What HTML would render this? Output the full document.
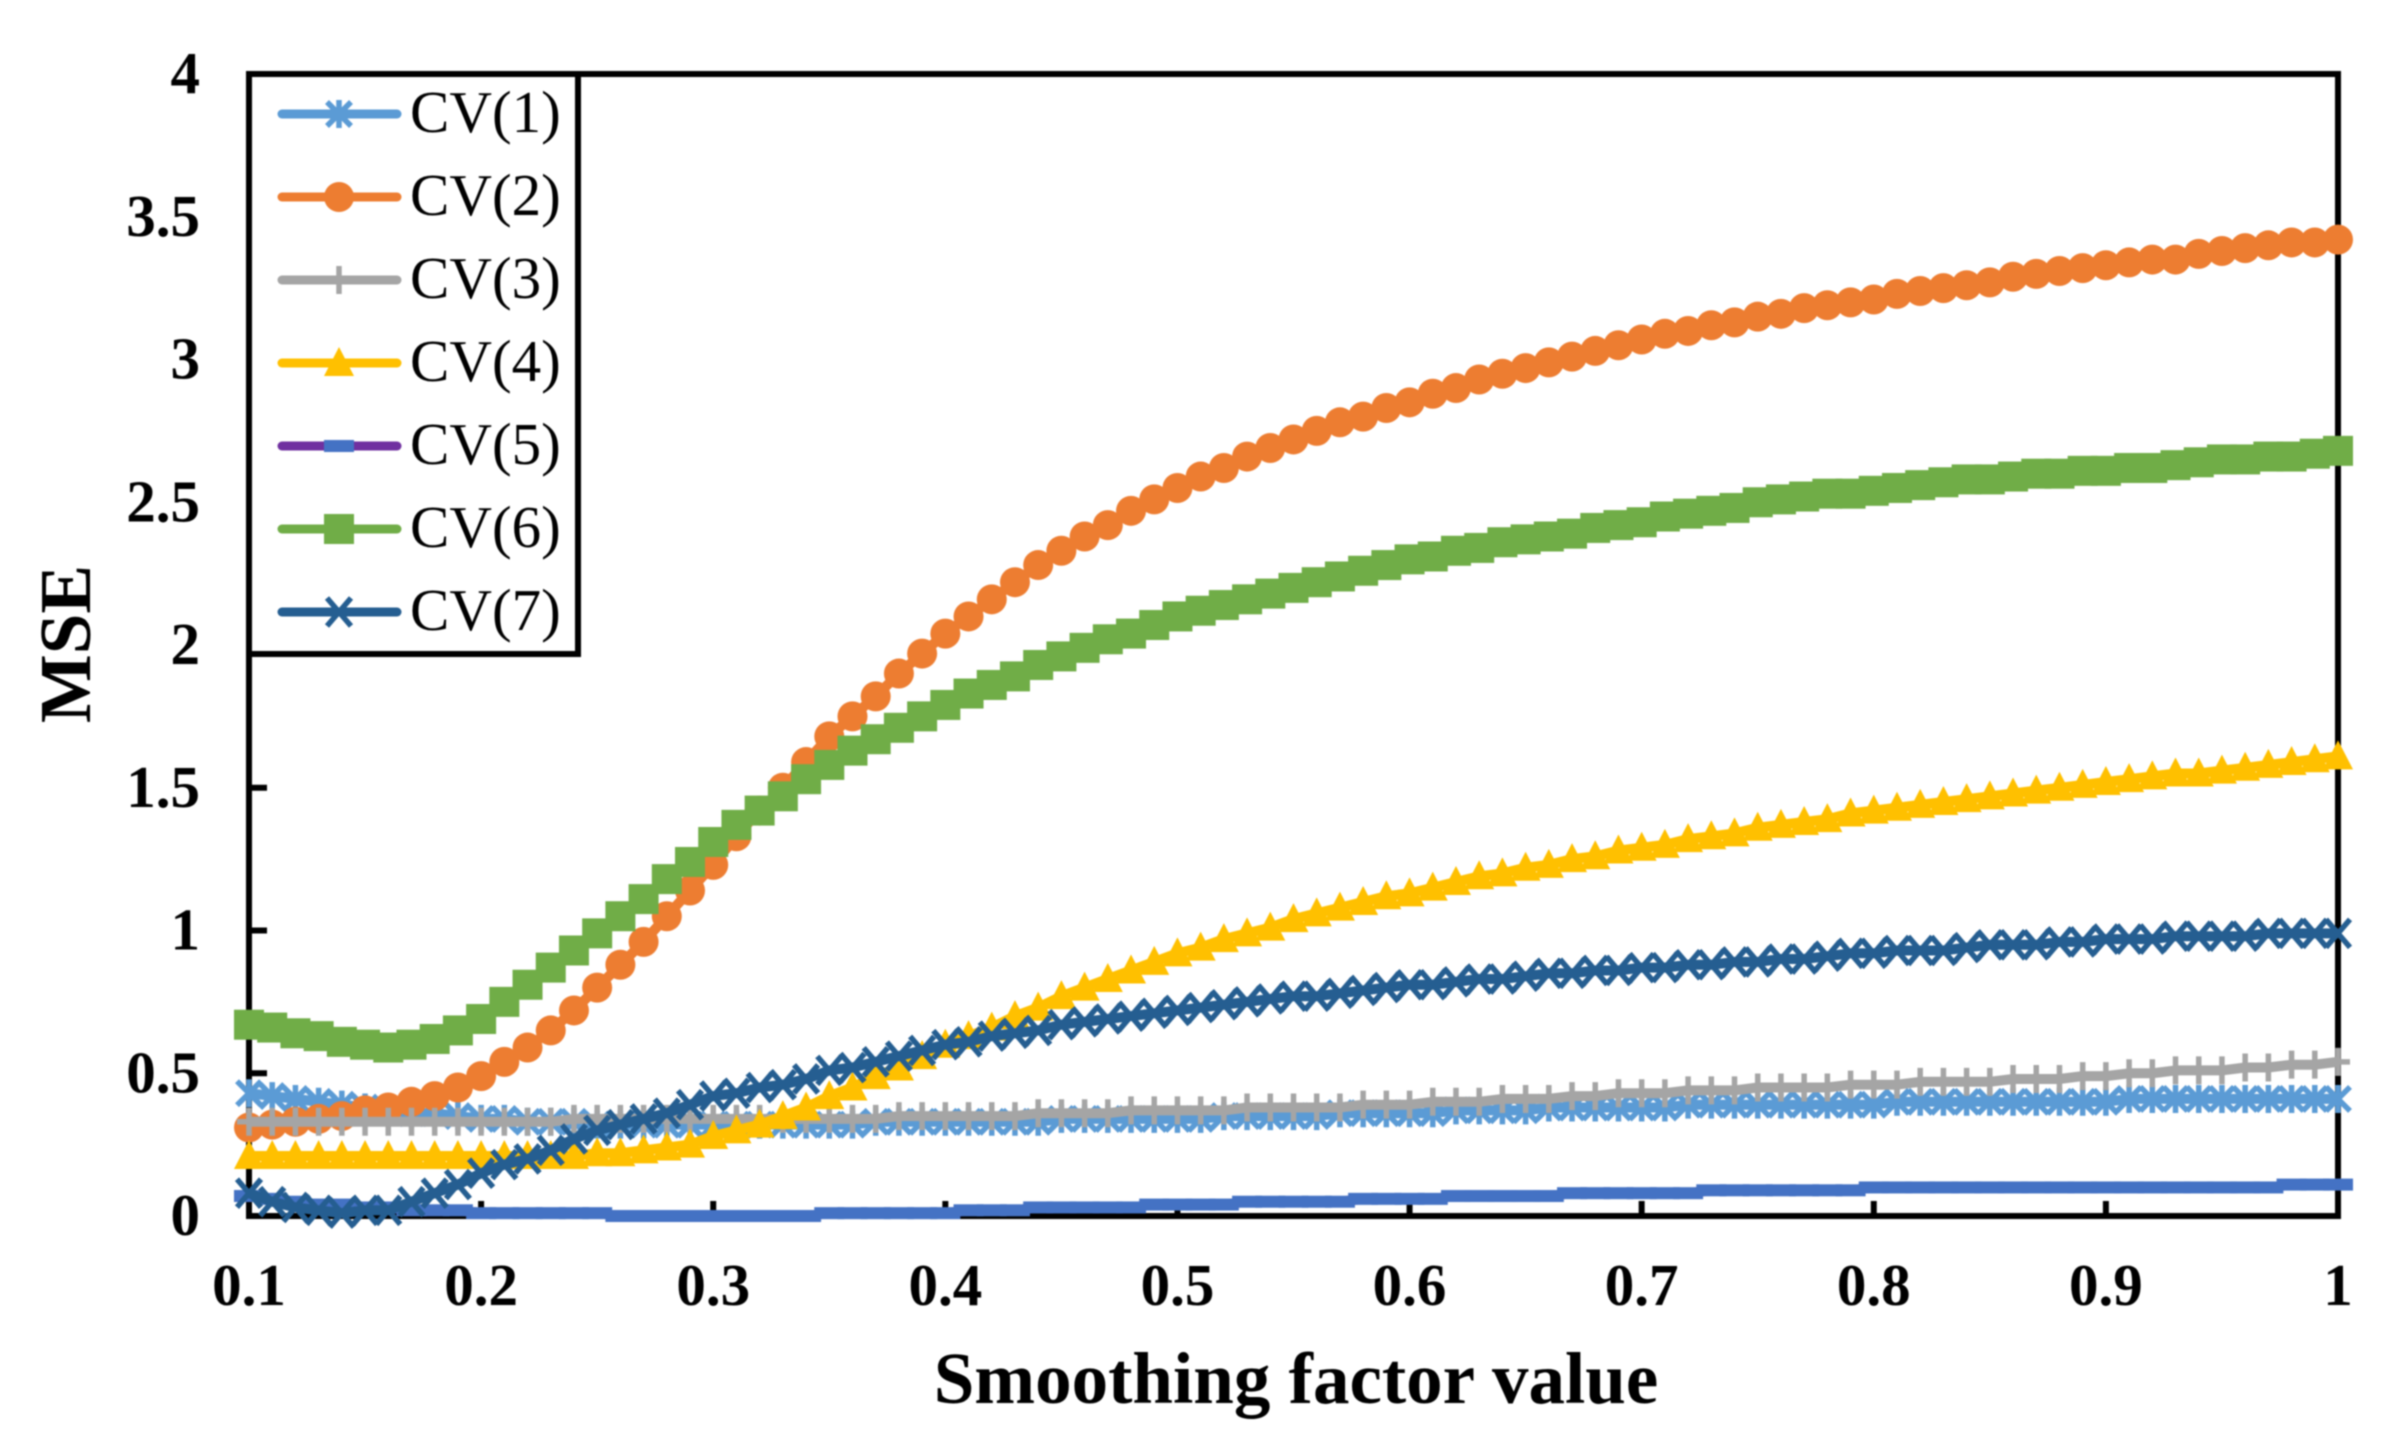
<!DOCTYPE html>
<html lang="en">
<head>
<meta charset="utf-8">
<title>MSE vs smoothing factor value</title>
<style>
html,body{margin:0;padding:0;background:#fff;}
svg{display:block;filter:blur(0.8px);}
text{font-family:"Liberation Serif","DejaVu Serif",serif;fill:#000;}
.tick{font-weight:bold;font-size:59px;}
.title{font-weight:bold;font-size:73px;}
.leg{font-size:59px;}
</style>
</head>
<body>
<svg id="chart" width="2406" height="1446" viewBox="0 0 2406 1446" xmlns="http://www.w3.org/2000/svg">
<rect x="0" y="0" width="2406" height="1446" fill="#fff"></rect>
<g id="plot"></g>
<g id="axes"></g>
<g id="series"></g>
<g id="legend"></g>
<text class="title" x="1296" y="1403" text-anchor="middle">Smoothing factor value</text>
<text class="title" x="0" y="0" text-anchor="middle" transform="translate(90 644) rotate(-90)">MSE</text>
</svg>
<script>
const xValues = [0.10,0.11,0.12,0.13,0.14,0.15,0.16,0.17,0.18,0.19,0.20,0.21,0.22,0.23,0.24,0.25,0.26,0.27,0.28,0.29,0.30,0.31,0.32,0.33,0.34,0.35,0.36,0.37,0.38,0.39,0.40,0.41,0.42,0.43,0.44,0.45,0.46,0.47,0.48,0.49,0.50,0.51,0.52,0.53,0.54,0.55,0.56,0.57,0.58,0.59,0.60,0.61,0.62,0.63,0.64,0.65,0.66,0.67,0.68,0.69,0.70,0.71,0.72,0.73,0.74,0.75,0.76,0.77,0.78,0.79,0.80,0.81,0.82,0.83,0.84,0.85,0.86,0.87,0.88,0.89,0.90,0.91,0.92,0.93,0.94,0.95,0.96,0.97,0.98,0.99,1.00];
const xTicks = [0.1,0.2,0.3,0.4,0.5,0.6,0.7,0.8,0.9,1];
const yTicks = [0,0.5,1,1.5,2,2.5,3,3.5,4];
const cv1 = [.43,.42,.41,.40,.39,.38,.37,.36,.36,.35,.34,.34,.33,.33,.33,.32,.32,.32,.32,.32,.32,.32,.32,.32,.32,.32,.32,.33,.33,.33,.33,.33,.33,.33,.33,.34,.34,.34,.34,.34,.34,.34,.35,.35,.35,.35,.35,.36,.36,.36,.36,.36,.37,.37,.37,.37,.38,.38,.38,.38,.38,.38,.39,.39,.39,.39,.39,.39,.39,.39,.39,.40,.40,.40,.40,.40,.40,.40,.40,.40,.40,.41,.41,.41,.41,.41,.41,.41,.41,.41,.41];
const cv2 = [.31,.32,.33,.34,.35,.37,.38,.40,.42,.45,.49,.54,.59,.65,.72,.80,.88,.96,1.05,1.14,1.23,1.33,1.42,1.50,1.59,1.68,1.75,1.82,1.90,1.97,2.04,2.10,2.16,2.22,2.28,2.33,2.38,2.42,2.47,2.51,2.55,2.59,2.62,2.66,2.69,2.72,2.75,2.78,2.80,2.83,2.85,2.88,2.90,2.93,2.95,2.97,2.99,3.01,3.03,3.05,3.07,3.09,3.10,3.12,3.13,3.15,3.16,3.18,3.19,3.20,3.21,3.23,3.24,3.25,3.26,3.27,3.29,3.30,3.31,3.32,3.33,3.34,3.35,3.35,3.37,3.38,3.39,3.40,3.41,3.41,3.42];
const cv3 = [.33,.33,.33,.33,.33,.33,.33,.33,.33,.33,.33,.33,.33,.33,.34,.34,.34,.34,.34,.34,.34,.34,.34,.34,.34,.34,.34,.34,.35,.35,.35,.35,.35,.35,.36,.36,.36,.36,.37,.37,.37,.37,.37,.38,.38,.38,.38,.38,.39,.39,.39,.40,.40,.40,.41,.41,.41,.42,.42,.43,.43,.43,.44,.44,.44,.45,.45,.45,.45,.46,.46,.46,.47,.47,.47,.47,.48,.48,.48,.49,.49,.50,.50,.51,.51,.51,.52,.52,.53,.53,.54];
const cv4 = [.21,.21,.21,.21,.21,.21,.21,.21,.21,.21,.21,.21,.21,.21,.21,.22,.22,.23,.24,.25,.28,.30,.32,.35,.38,.42,.45,.49,.52,.56,.60,.63,.66,.70,.73,.77,.80,.83,.86,.89,.92,.94,.97,.99,1.01,1.04,1.06,1.08,1.10,1.12,1.13,1.15,1.17,1.19,1.20,1.22,1.23,1.25,1.26,1.28,1.29,1.30,1.32,1.33,1.34,1.36,1.37,1.38,1.39,1.41,1.42,1.43,1.44,1.45,1.46,1.47,1.48,1.49,1.50,1.51,1.52,1.53,1.54,1.55,1.55,1.56,1.57,1.58,1.59,1.60,1.61];
const cv5 = [.07,.06,.05,.04,.04,.03,.03,.02,.02,.02,.01,.01,.01,.01,.01,.01,.00,.00,.00,.00,.00,.00,.00,.00,.00,.01,.01,.01,.01,.01,.01,.02,.02,.02,.03,.03,.03,.03,.03,.04,.04,.04,.04,.05,.05,.05,.05,.05,.06,.06,.06,.06,.07,.07,.07,.07,.07,.08,.08,.08,.08,.08,.08,.09,.09,.09,.09,.09,.09,.09,.10,.10,.10,.10,.10,.10,.10,.10,.10,.10,.10,.10,.10,.10,.10,.10,.10,.10,.11,.11,.11];
const cv6 = [.67,.66,.64,.63,.61,.60,.59,.60,.62,.65,.69,.75,.81,.87,.93,.99,1.05,1.11,1.18,1.24,1.31,1.37,1.42,1.47,1.53,1.58,1.63,1.67,1.71,1.75,1.79,1.83,1.86,1.89,1.93,1.96,1.99,2.02,2.04,2.07,2.10,2.12,2.14,2.16,2.18,2.20,2.22,2.24,2.26,2.28,2.30,2.31,2.33,2.34,2.36,2.37,2.38,2.39,2.41,2.42,2.43,2.45,2.46,2.47,2.48,2.50,2.51,2.52,2.53,2.53,2.54,2.55,2.56,2.57,2.58,2.58,2.59,2.60,2.60,2.61,2.61,2.62,2.62,2.63,2.64,2.65,2.65,2.66,2.66,2.67,2.68];
const cv7 = [.08,.05,.03,.02,.01,.02,.02,.05,.08,.11,.15,.18,.20,.23,.27,.30,.32,.34,.36,.39,.42,.43,.45,.46,.48,.51,.52,.54,.56,.58,.60,.61,.63,.64,.65,.67,.68,.69,.70,.71,.72,.73,.74,.75,.76,.77,.77,.78,.79,.80,.81,.81,.82,.83,.83,.84,.85,.85,.86,.86,.87,.87,.88,.88,.89,.89,.90,.90,.91,.92,.92,.93,.93,.93,.94,.95,.95,.95,.96,.96,.97,.97,.97,.98,.98,.98,.98,.99,.99,.99,.99];
const seriesNames = ['CV(1)','CV(2)','CV(3)','CV(4)','CV(5)','CV(6)','CV(7)'];
const seriesValues = [cv1,cv2,cv3,cv4,cv5,cv6,cv7];
const lineColors = ['#5B9BD5','#ED7D31','#A5A5A5','#FFC000','#7030A0','#70AD47','#255E91'];
const markerColors = ['#5B9BD5','#ED7D31','#A5A5A5','#FFC000','#4472C4','#70AD47','#255E91'];
const markerKinds = ['star','circle','plus','triangle','dash','square','cross'];

const PLOT_L = 249, PLOT_R = 2338, PLOT_T = 74, PLOT_B = 1216;
const NS = 'http://www.w3.org/2000/svg';
function xScale(v){ return PLOT_L + (v - 0.1) / 0.9 * (PLOT_R - PLOT_L); }
function yScale(v){ return PLOT_B - v / 4 * (PLOT_B - PLOT_T); }
function make(tag, attrs, parent){
  const el = document.createElementNS(NS, tag);
  for (const k in attrs) el.setAttribute(k, attrs[k]);
  parent.appendChild(el);
  return el;
}
function drawMarker(kind, cx, cy, color, parent){
  let m;
  if (kind === 'circle') {
    m = make('circle', {cx: cx, cy: cy, r: 15, fill: color}, parent);
  } else if (kind === 'square') {
    m = make('rect', {x: cx - 15, y: cy - 15, width: 30, height: 30, fill: color}, parent);
  } else if (kind === 'triangle') {
    m = make('polygon', {points: (cx - 15) + ',' + (cy + 13) + ' ' + (cx + 15) + ',' + (cy + 13) + ' ' + cx + ',' + (cy - 16), fill: color}, parent);
  } else if (kind === 'dash') {
    m = make('rect', {x: cx - 15, y: cy - 6, width: 30, height: 12, fill: color}, parent);
  } else if (kind === 'plus') {
    m = make('path', {d: 'M' + cx + ' ' + (cy - 14) + 'V' + (cy + 14) + 'M' + (cx - 12) + ' ' + cy + 'H' + (cx + 12), stroke: color, 'stroke-width': 5.5, fill: 'none'}, parent);
  } else if (kind === 'star') {
    m = make('path', {d: 'M' + (cx - 12) + ' ' + (cy - 12) + 'L' + (cx + 12) + ' ' + (cy + 12) + 'M' + (cx + 12) + ' ' + (cy - 12) + 'L' + (cx - 12) + ' ' + (cy + 12) + 'M' + cx + ' ' + (cy - 14) + 'V' + (cy + 14), stroke: color, 'stroke-width': 5.5, fill: 'none'}, parent);
  } else {
    m = make('path', {d: 'M' + (cx - 12) + ' ' + (cy - 14) + 'L' + (cx + 12) + ' ' + (cy + 14) + 'M' + (cx + 12) + ' ' + (cy - 14) + 'L' + (cx - 12) + ' ' + (cy + 14), stroke: color, 'stroke-width': 5.5, fill: 'none'}, parent);
  }
  return m;
}

const axes = document.getElementById('axes');
const frame = make('rect', {x: PLOT_L, y: PLOT_T, width: PLOT_R - PLOT_L, height: PLOT_B - PLOT_T, fill: 'none', stroke: '#000', 'stroke-width': 6}, document.getElementById('plot'));



xTicks.forEach(function(t){
  const mark = make('line', {x1: xScale(t), x2: xScale(t), y1: PLOT_B, y2: PLOT_B - 15, stroke: '#000', 'stroke-width': 6}, axes);
  
  
  const label = make('text', {x: xScale(t), y: 1305, 'text-anchor': 'middle', class: 'tick'}, axes);
  label.textContent = String(t);
  
  
});
yTicks.forEach(function(t){
  const mark = make('line', {x1: PLOT_L, x2: PLOT_L + 18, y1: yScale(t), y2: yScale(t), stroke: '#000', 'stroke-width': 6}, axes);
  
  
  const label = make('text', {x: 200, y: yScale(t) + 19, 'text-anchor': 'end', class: 'tick'}, axes);
  label.textContent = String(t);
  
  
});

const seriesLayer = document.getElementById('series');
seriesValues.forEach(function(values, i){
  const g = make('g', {}, seriesLayer);
  
  
  const pts = values.map(function(v, j){ return xScale(xValues[j]).toFixed(1) + ',' + yScale(v).toFixed(1); }).join(' ');
  const line = make('polyline', {points: pts, fill: 'none', stroke: lineColors[i], 'stroke-width': 10, 'stroke-linejoin': 'round'}, g);
  
  
  values.forEach(function(v, j){
    const p = drawMarker(markerKinds[i], xScale(xValues[j]), yScale(v), markerColors[i], g);
    
    
  });
});

const legend = document.getElementById('legend');
const legendBox = make('rect', {x: PLOT_L, y: PLOT_T, width: 329, height: 580, fill: '#fff', stroke: '#000', 'stroke-width': 6}, legend);


seriesNames.forEach(function(name, i){
  const cy = 114 + i * 83;
  const entry = make('g', {}, legend);
  
  
  const sw = make('line', {x1: 282, x2: 397, y1: cy, y2: cy, stroke: lineColors[i], 'stroke-width': 9, 'stroke-linecap': 'round'}, entry);
  
  
  const mk = drawMarker(markerKinds[i], 339, cy, markerColors[i], entry);
  
  
  const tx = make('text', {x: 410, y: cy + 18, class: 'leg'}, entry);
  tx.textContent = name;
  
  
});
</script>
</body>
</html>
